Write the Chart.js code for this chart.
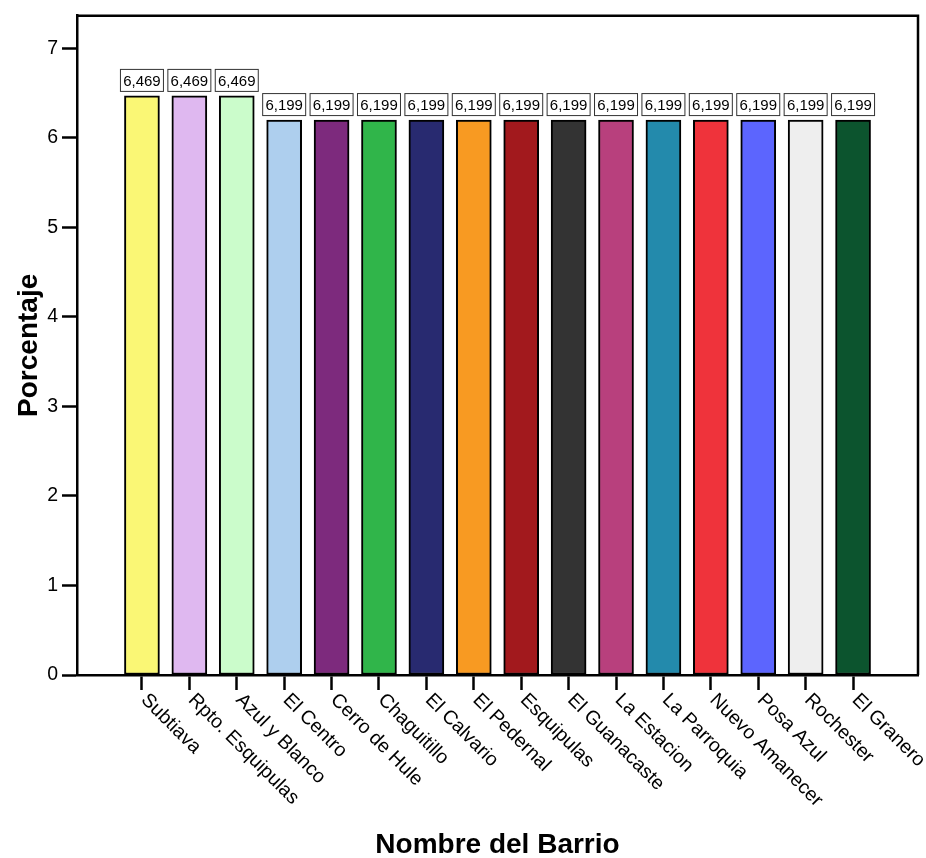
<!DOCTYPE html>
<html>
<head>
<meta charset="utf-8">
<script src="https://cdn.jsdelivr.net/npm/chart.js@4/dist/chart.umd.min.js"></script>
<style>
  html, body { margin: 0; padding: 0; background: #ffffff; }
  #grafico { display: block; }
</style>
</head>
<body>
<canvas id="grafico" width="926" height="858"></canvas>
<script>
const barrios = ['Subtiava', 'Rpto. Esquipulas', 'Azul y Blanco', 'El Centro', 'Cerro de Hule',
    'Chaguitillo', 'El Calvario', 'El Pedernal', 'Esquipulas', 'El Guanacaste', 'La Estacion',
    'La Parroquia', 'Nuevo Amanecer', 'Posa Azul', 'Rochester', 'El Granero'];
const porcentajes = [6.469, 6.469, 6.469, 6.199, 6.199, 6.199, 6.199, 6.199, 6.199, 6.199,
    6.199, 6.199, 6.199, 6.199, 6.199, 6.199];
const colores = ['#faf775', '#dfb8f0', '#cbfccb', '#aecfee', '#7d2a7d', '#30b54a', '#282a70',
    '#f89a22', '#a2191d', '#333333', '#b8407d', '#238aac', '#ef333b', '#5c65fe', '#eeeeee', '#0c542e'];
const yTicks = [0, 1, 2, 3, 4, 5, 6, 7];

const FONT = '"Liberation Sans", Arial, sans-serif';

// etiquetas "6,469" en recuadro encima de cada barra
const etiquetasValor = {
    id: 'etiquetasValor',
    afterDatasetsDraw(chart) {
        const ctx = chart.ctx;
        const meta = chart.getDatasetMeta(0);
        ctx.save();
        ctx.font = '15px ' + FONT;
        ctx.textAlign = 'center';
        ctx.textBaseline = 'middle';
        meta.data.forEach((bar, i) => {
            const w = 44, h = 23;
            const x = bar.x - w / 2;
            const y = bar.y - 4 - h;
            ctx.fillStyle = '#ffffff';
            ctx.fillRect(x, y, w, h);
            ctx.strokeStyle = '#333333';
            ctx.lineWidth = 1;
            ctx.strokeRect(x + 0.5, y + 0.5, w - 1, h - 1);
            ctx.fillStyle = '#000000';
            ctx.fillText(porcentajes[i].toFixed(3).replace('.', ','), bar.x, y + h / 2 + 1);
        });
        ctx.restore();
    }
};

// nombres de barrio girados 45 grados hacia abajo a la derecha
const etiquetasBarrio = {
    id: 'etiquetasBarrio',
    afterDraw(chart) {
        const ctx = chart.ctx;
        const xs = chart.scales.x;
        ctx.save();
        ctx.font = '19.5px ' + FONT;
        ctx.fillStyle = '#000000';
        ctx.textAlign = 'left';
        ctx.textBaseline = 'middle';
        barrios.forEach((nombre, i) => {
            const px = xs.getPixelForValue(i);
            ctx.save();
            ctx.translate(px + 2, xs.top + 22);
            ctx.rotate(Math.PI / 4);
            ctx.fillText(nombre, 0, 0);
            ctx.restore();
        });
        ctx.restore();
    }
};

// lineas superior y derecha del marco
const marco = {
    id: 'marco',
    afterDatasetsDraw(chart) {
        const { ctx, chartArea } = chart;
        ctx.save();
        ctx.strokeStyle = '#000000';
        ctx.lineWidth = 2.5;
        ctx.beginPath();
        ctx.moveTo(chartArea.left, chartArea.top);
        ctx.lineTo(chartArea.right, chartArea.top);
        ctx.lineTo(chartArea.right, chartArea.bottom);
        ctx.stroke();
        ctx.restore();
    }
};

new Chart(document.getElementById('grafico').getContext('2d'), {
    type: 'bar',
    data: {
        datasets: [{
            data: barrios.map((b, i) => ({ x: i, y: porcentajes[i] })),
            backgroundColor: colores,
            borderColor: '#000000',
            borderWidth: 2,
            borderSkipped: false,
            barThickness: 35
        }]
    },
    options: {
        responsive: false,
        animation: false,
        layout: { padding: { top: 13, right: 8, left: 0, bottom: 0 } },
        plugins: {
            legend: { display: false },
            tooltip: { enabled: false }
        },
        scales: {
            x: {
                type: 'linear',
                offset: false,
                min: -1.37,
                max: 16.37,
                grid: { offset: false, drawOnChartArea: false, drawTicks: true, tickLength: 15, tickWidth: 2.5, color: '#000000' },
                border: { display: true, color: '#000000', width: 2.5 },
                ticks: { display: false, stepSize: 1 },
                afterBuildTicks: s => { s.ticks = barrios.map((b, i) => ({ value: i })); },
                afterFit: s => { s.height = 183; },
                title: {
                    display: true,
                    text: 'Nombre del Barrio',
                    color: '#000000',
                    font: { family: FONT, size: 28, weight: 'bold', lineHeight: 0.9 },
                    padding: { top: 0, bottom: 0 }
                }
            },
            y: {
                min: 0,
                max: 7.365,
                grid: { drawOnChartArea: false, drawTicks: true, tickLength: 15, tickWidth: 2.5, color: '#000000' },
                border: { display: true, color: '#000000', width: 2.5 },
                ticks: { color: '#000000', padding: 4, font: { family: FONT, size: 19.5 } },
                afterBuildTicks: s => { s.ticks = yTicks.map(v => ({ value: v })); },
                afterFit: s => { s.width = 77; },
                title: {
                    display: true,
                    text: 'Porcentaje',
                    color: '#000000',
                    font: { family: FONT, size: 28, weight: 'bold', lineHeight: 0.9 },
                    padding: { top: 17, bottom: 0 }
                }
            }
        }
    },
    plugins: [etiquetasValor, etiquetasBarrio, marco]
});
</script>
</body>
</html>
